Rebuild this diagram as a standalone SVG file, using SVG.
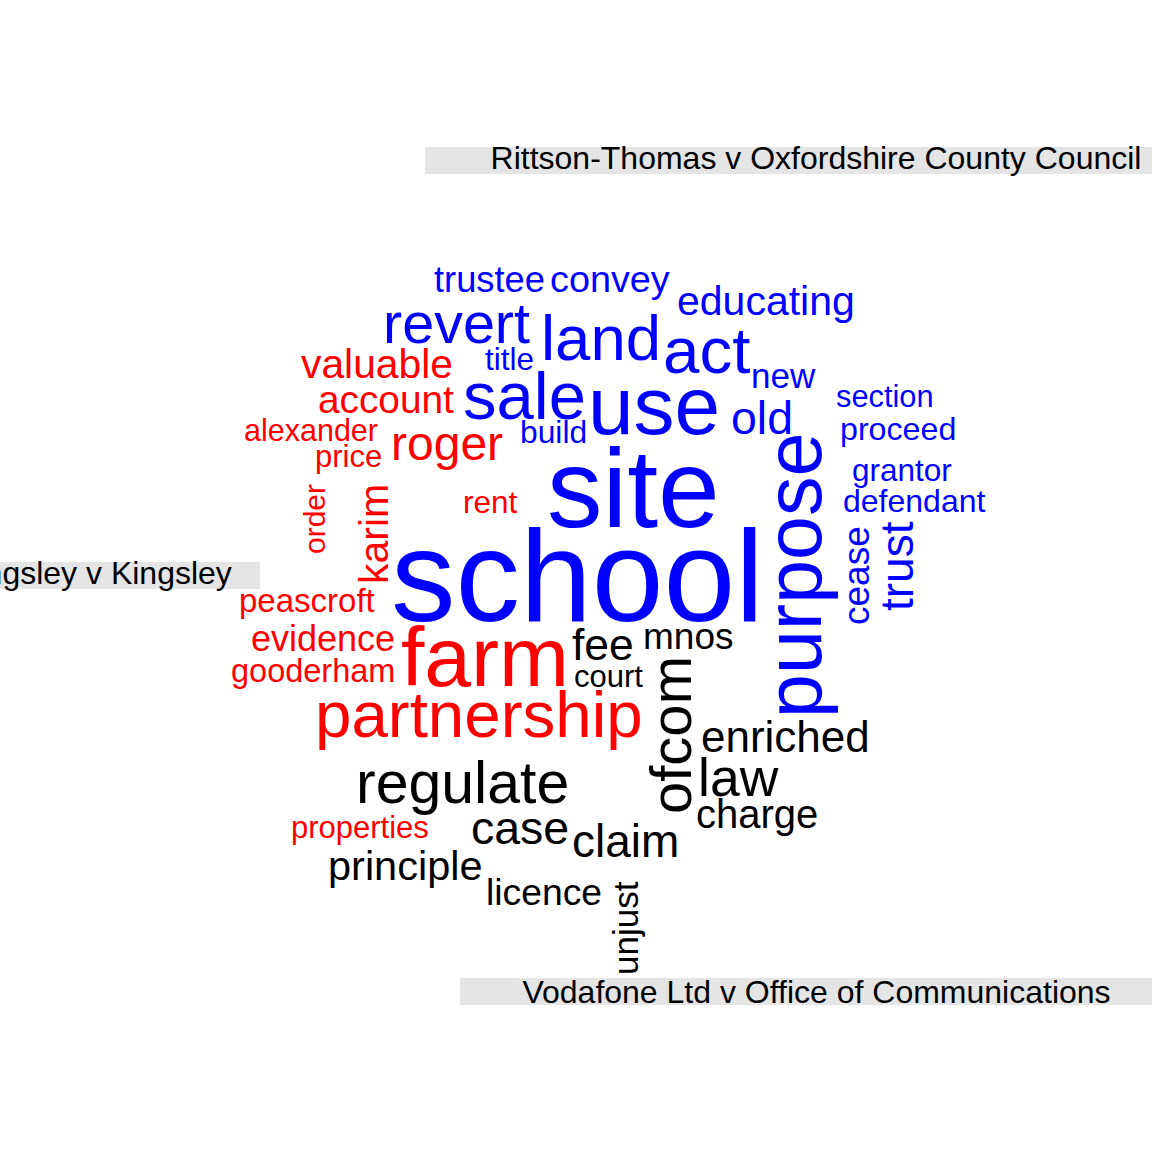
<svg xmlns="http://www.w3.org/2000/svg" width="1152" height="1152" viewBox="0 0 1152 1152">
<style>
text{font-family:"Liberation Sans",Arial,Helvetica,sans-serif}
.b{fill:#0000FF}
.r{fill:#FF0000}
.k{fill:#000000}
.box{fill:#E5E5E5}
.lab{font-size:32px;fill:#000000;text-anchor:middle}
</style>
<rect width="1152" height="1152" fill="#FFFFFF"/>
<g id="labels">
<rect class="box" x="425" y="147" width="800" height="27"/>
<text class="lab" x="816" y="169">Rittson-Thomas v Oxfordshire County Council</text>
<rect class="box" x="-80" y="562" width="340" height="27"/>
<text class="lab" x="94" y="584">Kingsley v Kingsley</text>
<rect class="box" x="460" y="978" width="720" height="27"/>
<text class="lab" x="816.5" y="1003" font-size="32.2">Vodafone Ltd v Office of Communications</text>
</g>
<g id="blue-words" class="b">
<text x="434" y="292" font-size="36.3">trustee</text>
<text x="550" y="292" font-size="37.8">convey</text>
<text x="677" y="315" font-size="41">educating</text>
<text x="383" y="343" font-size="57.5">revert</text>
<text x="541" y="360" font-size="63.5">land</text>
<text x="663" y="373" font-size="65.5">act</text>
<text x="485" y="370" font-size="31.5">title</text>
<text x="463" y="419" font-size="67">sale</text>
<text x="588" y="434" font-size="82">use</text>
<text x="751" y="388" font-size="35">new</text>
<text x="731" y="434" font-size="46.5">old</text>
<text x="836" y="407" font-size="30.8">section</text>
<text x="840" y="440" font-size="32.2">proceed</text>
<text x="852" y="481" font-size="31.5">grantor</text>
<text x="843" y="512" font-size="32">defendant</text>
<text x="520" y="443" font-size="31.8">build</text>
<text x="547" y="527" font-size="111">site</text>
<text x="391" y="621" font-size="129">school</text>
<text transform="translate(821,718) rotate(-90)" font-size="79">purpose</text>
<text transform="translate(869,625) rotate(-90)" font-size="37">cease</text>
<text transform="translate(913,611) rotate(-90)" font-size="46">trust</text>
</g>
<g id="red-words" class="r">
<text x="301" y="378" font-size="40.8">valuable</text>
<text x="318" y="413" font-size="38.8">account</text>
<text x="244" y="441" font-size="30.5">alexander</text>
<text x="391" y="460" font-size="48">roger</text>
<text x="315" y="467" font-size="31">price</text>
<text x="463" y="513" font-size="31.5">rent</text>
<text x="239" y="612" font-size="33">peascroft</text>
<text x="251" y="651" font-size="36">evidence</text>
<text x="231" y="682" font-size="32.5">gooderham</text>
<text x="401" y="686" font-size="84">farm</text>
<text x="315" y="737" font-size="65.5">partnership</text>
<text x="291" y="838" font-size="31">properties</text>
<text transform="translate(325,554) rotate(-90)" font-size="30">order</text>
<text transform="translate(388,584) rotate(-90)" font-size="41">karim</text>
</g>
<g id="black-words" class="k">
<text x="572" y="660" font-size="44.5">fee</text>
<text x="643" y="649" font-size="37">mnos</text>
<text x="574" y="687" font-size="31">court</text>
<text x="701" y="752" font-size="44">enriched</text>
<text x="698" y="796" font-size="53.5">law</text>
<text x="696" y="828" font-size="40">charge</text>
<text x="356" y="803" font-size="59">regulate</text>
<text x="471" y="844" font-size="46.5">case</text>
<text x="572" y="857" font-size="46">claim</text>
<text x="328" y="880" font-size="41.5">principle</text>
<text x="486" y="905" font-size="37.3">licence</text>
<text transform="translate(691,814) rotate(-90)" font-size="58">ofcom</text>
<text transform="translate(638,975) rotate(-90)" font-size="35">unjust</text>
</g>
</svg>
